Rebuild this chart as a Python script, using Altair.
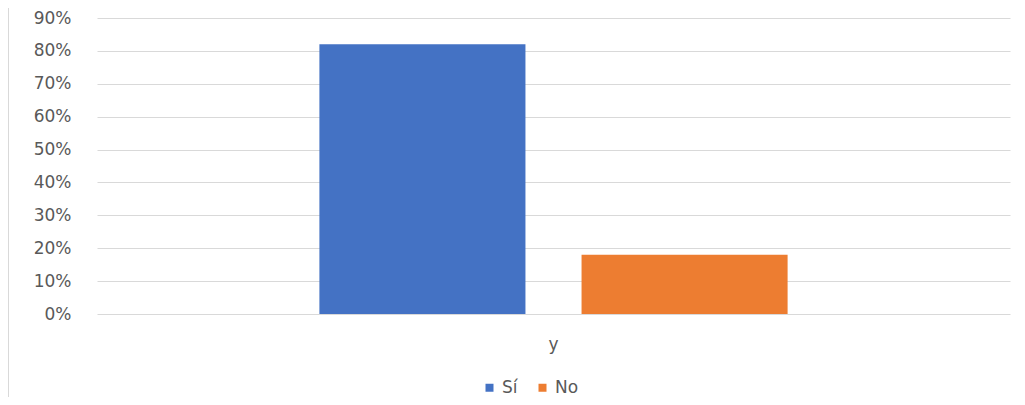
import altair as alt
import pandas as pd

categories = ["y", "y"]
series = ["Sí", "No"]
values = [0.82, 0.18]
colors = ["#4472C4", "#ED7D31"]
y_ticks = [0, 0.1, 0.2, 0.3, 0.4, 0.5, 0.6, 0.7, 0.8, 0.9]

df = pd.DataFrame({"cat": categories, "serie": series, "valor": values})

W, H = 913, 296
FONT = "DejaVu Sans"
GRAY = "#595959"
FS = 17

bars = alt.Chart(df).mark_bar().encode(
    x=alt.X("cat:N", title=None,
            scale=alt.Scale(paddingInner=0, paddingOuter=0.475),
            axis=alt.Axis(labelAngle=0, ticks=False, domain=False, grid=False,
                          labelFontSize=FS, labelFont=FONT, labelColor=GRAY,
                          labelPadding=22)),
    xOffset=alt.XOffset("serie:N", sort=series,
                        scale=alt.Scale(paddingInner=0.214, paddingOuter=0)),
    y=alt.Y("valor:Q", title=None,
            scale=alt.Scale(domain=[0, 0.9], nice=False),
            axis=alt.Axis(values=y_ticks, format=".0%", ticks=False, domain=False,
                          labelFontSize=FS, labelFont=FONT, labelColor=GRAY,
                          labelPadding=26, gridColor="#d9d9d9", gridWidth=1)),
    color=alt.Color("serie:N", sort=series,
                    scale=alt.Scale(domain=series, range=colors),
                    legend=alt.Legend(title=None, orient="none", direction="horizontal",
                                      legendX=384, legendY=361, symbolType="square",
                                      symbolSize=64, symbolStrokeWidth=0,
                                      labelFontSize=FS, labelFont=FONT, labelColor=GRAY,
                                      columnPadding=16, symbolOffset=0, labelOffset=4)),
)

border = alt.Chart(pd.DataFrame({"a": [0]})).mark_rule(color="#d9d9d9", strokeWidth=1).encode(
    x=alt.value(-88.5), y=alt.value(-10), y2=alt.value(H + 83)
)

chart = alt.layer(bars, border).properties(
    width=W, height=H,
    background="white",
    autosize=alt.AutoSizeParams(type="none"),
    padding={"left": 89, "top": 10, "right": 5, "bottom": 83},
).configure_view(strokeWidth=0, stroke="transparent")

chart.save("out.html", embed_options={"renderer": "svg", "actions": False})
